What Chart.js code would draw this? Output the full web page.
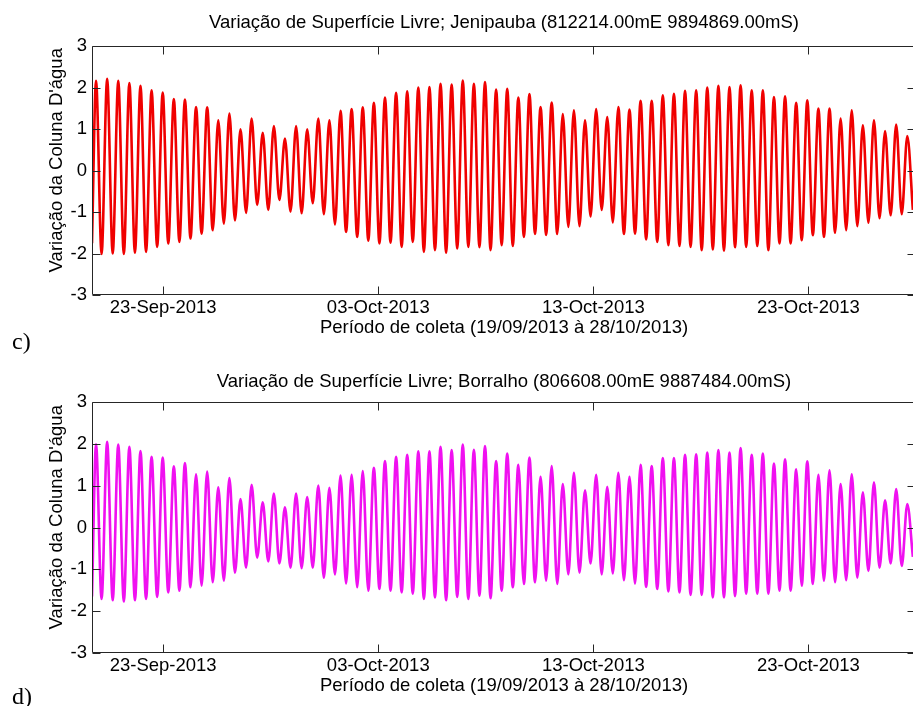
<!DOCTYPE html>
<html><head><meta charset="utf-8">
<script src="https://cdn.jsdelivr.net/npm/chart.js@4.4.1/dist/chart.umd.min.js"></script>
<style>
html,body{margin:0;padding:0;background:#fff;width:913px;height:706px;overflow:hidden;}
.wrap{position:absolute;left:0;width:916px;height:353px;}
#w1{top:0;}
#w2{top:353px;}
.tag{position:absolute;left:12px;font-family:'Liberation Serif','Times New Roman',serif;font-size:24px;line-height:24px;color:#000;}
</style></head><body>
<div class="wrap" id="w1"><canvas id="c1" width="916" height="353"></canvas></div>
<div class="wrap" id="w2"><canvas id="c2" width="916" height="353"></canvas></div>
<div class="tag" style="top:329px">c)</div>
<div class="tag" style="top:684px">d)</div>
<script>
// Hours since 19/09/2013 00:00 of each high / low water
const highHours = [21.1,33.5,45.9,58.3,70.7,83.1,95.5,107.9,120.3,132.7,
145.1,157.5,169.9,182.3,194.7,207.1,219.5,231.9,244.3,256.7,
269.1,281.5,293.9,306.3,318.7,331.1,343.5,355.9,368.3,380.7,
393.1,405.5,417.9,430.3,442.7,455.1,467.5,479.9,492.3,504.7,
517.1,529.5,541.9,554.3,566.7,579.1,591.5,603.9,616.3,628.7,
641.1,653.5,665.9,678.3,690.7,703.1,715.5,727.9,740.3,752.7,
765.1,777.5,789.9,802.3,814.7,827.1,839.5,851.9,864.3,876.7,
889.1,901.5,913.9,926.3];
const lowHours = [16.6,27.3,39.7,52.1,64.5,76.9,89.3,101.7,114.1,126.5,138.9,
151.3,163.7,176.1,188.5,200.9,213.3,225.7,238.1,250.5,262.9,
275.3,287.7,300.1,312.5,324.9,337.3,349.7,362.1,374.5,386.9,
399.3,411.7,424.1,436.5,448.9,461.3,473.7,486.1,498.5,510.9,
523.3,535.7,548.1,560.5,572.9,585.3,597.7,610.1,622.5,634.9,
647.3,659.7,672.1,684.5,696.9,709.3,721.7,734.1,746.5,758.9,
771.3,783.7,796.1,808.5,820.9,833.3,845.7,858.1,870.5,882.9,
895.3,907.7,920.1,932.5];

// Jenipauba (red)
const jenipaubaHigh = [2.16,2.21,2.16,2.11,2.04,1.93,1.88,1.72,1.71,1.53,
1.52,1.21,1.37,0.99,1.25,0.91,1.07,0.77,1.07,0.99,
1.25,1.21,1.44,1.48,1.52,1.63,1.76,1.87,1.91,2.00,
2.01,2.09,2.07,2.17,2.09,2.13,1.95,1.97,1.76,1.84,
1.53,1.64,1.36,1.45,1.21,1.48,1.29,1.53,1.47,1.68,
1.68,1.81,1.85,1.92,1.93,2.00,2.04,2.01,2.05,1.93,
1.93,1.77,1.79,1.63,1.69,1.49,1.49,1.25,1.45,1.09,
1.21,0.95,1.11,0.83];
const jenipaubaLow = [-1.75,
-2.01,-2.00,-2.01,-1.98,-1.96,-1.84,-1.76,-1.72,-1.64,-1.52,
-1.44,-1.28,-1.20,-1.02,-0.83,-0.95,-0.71,-0.99,-1.03,-0.79,
-1.05,-1.30,-1.48,-1.60,-1.69,-1.76,-1.74,-1.84,-1.72,-1.96,
-1.92,-1.98,-1.88,-1.84,-1.85,-1.92,-1.80,-1.82,-1.60,-1.53,
-1.55,-1.53,-1.36,-1.34,-1.11,-0.95,-1.25,-1.53,-1.52,-1.66,
-1.72,-1.80,-1.82,-1.84,-1.92,-1.90,-1.93,-1.85,-1.84,-1.82,
-1.92,-1.76,-1.76,-1.68,-1.56,-1.60,-1.50,-1.44,-1.34,-1.26,
-1.15,-1.08,-1.05,-0.95];

// Borralho (magenta)
const borralhoHigh = [1.99,2.05,1.98,1.93,1.83,1.69,1.67,1.46,1.54,1.27,
1.34,0.96,1.18,0.68,1.02,0.60,0.81,0.48,0.81,0.73,
1.00,0.95,1.24,1.26,1.35,1.43,1.59,1.69,1.74,1.82,
1.82,1.93,1.85,1.98,1.86,1.95,1.59,1.77,1.50,1.67,
1.21,1.47,1.04,1.31,0.89,1.26,0.97,1.31,1.21,1.50,
1.47,1.66,1.66,1.74,1.75,1.79,1.85,1.79,1.90,1.74,
1.77,1.53,1.63,1.39,1.58,1.26,1.37,1.04,1.27,0.84,
1.08,0.65,0.92,0.56];
const borralhoLow = [-1.65,
-1.71,-1.74,-1.77,-1.74,-1.71,-1.66,-1.55,-1.51,-1.43,-1.39,
-1.31,-1.27,-1.08,-0.96,-0.72,-0.81,-0.86,-0.96,-0.97,-0.96,
-1.20,-1.12,-1.34,-1.43,-1.51,-1.47,-1.51,-1.55,-1.58,-1.71,
-1.67,-1.74,-1.66,-1.71,-1.63,-1.69,-1.51,-1.43,-1.35,-1.31,
-1.27,-1.35,-1.12,-1.08,-0.86,-1.12,-1.10,-1.26,-1.34,-1.42,
-1.47,-1.53,-1.55,-1.61,-1.61,-1.67,-1.67,-1.64,-1.58,-1.58,
-1.58,-1.51,-1.51,-1.39,-1.35,-1.27,-1.31,-1.26,-1.20,-1.04,
-0.96,-0.86,-0.92,-0.70];

const xTickHours = [96, 336, 576, 816];
const xTickLabels = ['23-Sep-2013','03-Oct-2013','13-Oct-2013','23-Oct-2013'];
const yTicks = [-3,-2,-1,0,1,2,3];
const xMinHour = 16.6, xMaxHour = 936;

const titleTop = 'Variação de Superfície Livre; Jenipauba (812214.00mE 9894869.00mS)';
const titleBottom = 'Variação de Superfície Livre; Borralho (806608.00mE 9887484.00mS)';
const xTitle = 'Período de coleta (19/09/2013 à 28/10/2013)';
const yTitle = "Variação da Coluna D'água";

function series(highs, lows){
  const pts = [];
  highHours.forEach((h,i)=>pts.push({x:h, y:highs[i]}));
  lowHours.forEach((h,i)=>pts.push({x:h, y:lows[i]}));
  pts.sort((a,b)=>a.x-b.x);
  return pts;
}

const FONT = "'Liberation Sans', Arial, sans-serif";
const FS = 18.5;

const boxTicks = {
  id:'boxTicks',
  afterDatasetsDraw(chart){
    const {ctx, chartArea:a, scales:{x, y}} = chart;
    ctx.save();
    ctx.strokeStyle = '#262626';
    ctx.lineWidth = 1;
    ctx.beginPath();
    const L = Math.round(a.left)+0.5, R = Math.round(a.right)-0.5;
    const T = Math.round(a.top)+0.5, B = Math.round(a.bottom)-0.5;
    ctx.rect(L, T, R-L, B-T);
    xTickHours.forEach(v=>{
      const px = Math.round(x.getPixelForValue(v))+0.5;
      ctx.moveTo(px, B); ctx.lineTo(px, B-8);
      ctx.moveTo(px, T); ctx.lineTo(px, T+8);
    });
    yTicks.forEach(v=>{
      const py = Math.round(y.getPixelForValue(v))+0.5;
      ctx.moveTo(L, py); ctx.lineTo(L+8, py);
      ctx.moveTo(R, py); ctx.lineTo(R-8, py);
    });
    ctx.stroke();
    ctx.restore();
  }
};

function makeChart(id, title, data, color, lay){
  return new Chart(document.getElementById(id), {
    type:'line',
    data:{datasets:[{data, borderColor:color, backgroundColor:color, borderWidth:2.6,
      pointRadius:0, cubicInterpolationMode:'monotone', fill:false}]},
    options:{
      responsive:false, animation:false, devicePixelRatio:1,
      layout:{padding:{left:0,right:0,top:0,bottom:0}},
      plugins:{
        legend:{display:false}, tooltip:{enabled:false},
        title:{display:true, text:title, fullSize:false, color:'#000',
          font:{family:FONT, size:FS, weight:'normal'}, padding:{top:lay.tTop, bottom:lay.tBot}}
      },
      scales:{
        x:{type:'linear', min:xMinHour, max:xMaxHour,
          grid:{display:false, drawTicks:false, tickLength:0}, border:{display:false},
          afterBuildTicks(s){ s.ticks = xTickHours.map(v=>({value:v})); },
          ticks:{autoSkip:false, maxRotation:0, padding:2, color:'#000',
            font:{family:FONT, size:FS},
            callback(v){ const i = xTickHours.indexOf(v); return i>=0 ? xTickLabels[i] : ''; }},
          title:{display:true, text:xTitle, color:'#000', font:{family:FONT, size:FS},
            padding:{top:0, bottom:lay.xtBot}},
          afterFit(s){ s.height = lay.xh; }
        },
        y:{min:-3, max:3,
          grid:{display:false, drawTicks:false, tickLength:0}, border:{display:false},
          afterBuildTicks(s){ s.ticks = yTicks.map(v=>({value:v})); },
          ticks:{padding:5, color:'#000', font:{family:FONT, size:FS}},
          title:{display:true, text:'    ' + yTitle, color:'#000', font:{family:FONT, size:FS},
            padding:{top:45.9, bottom:0}},
          afterFit(s){ s.width = 92; }
        }
      }
    },
    plugins:[boxTicks]
  });
}

makeChart('c1', titleTop, series(jenipaubaHigh, jenipaubaLow), '#f00000',
  {tTop:11.5, tBot:12.3, xh:58, xtBot:13.9});
makeChart('c2', titleBottom, series(borralhoHigh, borralhoLow), '#f010f0',
  {tTop:17.5, tBot:9.3, xh:53, xtBot:8.9});
</script>
</body></html>
